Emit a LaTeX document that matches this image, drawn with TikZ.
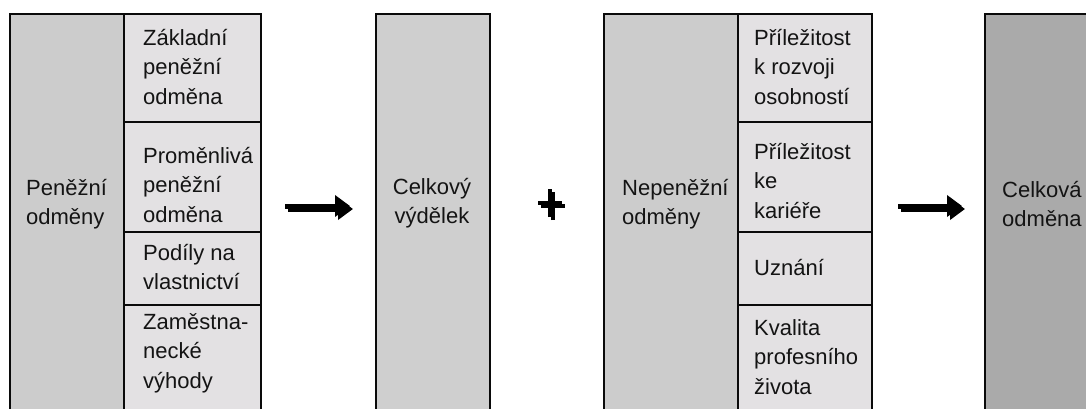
\documentclass[tikz,border=0pt]{standalone}
\usepackage{fontspec}
\setmainfont{Liberation Sans}
\usetikzlibrary{arrows.meta}
\definecolor{maingray}{HTML}{CCCCCC}
\definecolor{subgray}{HTML}{E3E1E3}
\definecolor{sumgray}{HTML}{CFCFCF}
\definecolor{totgray}{HTML}{AAAAAA}
\definecolor{edge}{HTML}{0A0A0A}
\definecolor{shade}{HTML}{A0A0A0}
\tikzset{
  box/.style={draw=edge, line width=2.3pt, rectangle, inner sep=0pt, anchor=north west},
  lbl/.style={font=\fontsize{22}{29.5}\selectfont, text=black!92, align=left, inner sep=0pt, anchor=west},
  clbl/.style={font=\fontsize{22}{29.5}\selectfont, text=black!92, align=center, inner sep=0pt},
  bigarrow/.style={line width=5pt, -{Triangle[length=15pt,width=21pt]}},
  plusbar/.style={line width=4.5pt},
  sh/.style={shift={(3,3)}}
}
\begin{document}
\begin{tikzpicture}[x=1pt,y=-1pt]
\useasboundingbox (0,0) rectangle (1086,408);
\clip (0,0) rectangle (1086,408);
\fill[white] (0,0) rectangle (1086,408);

% monetary rewards
\node[box, fill=maingray, minimum width=114pt, minimum height=420pt] (pm) at (9,13) {};
\node[box, fill=subgray, minimum width=137pt, minimum height=108pt] (pm1) at (123,13) {};
\node[box, fill=subgray, minimum width=137pt, minimum height=110pt] (pm2) at (123,121) {};
\node[box, fill=subgray, minimum width=137pt, minimum height=73pt] (pm3) at (123,231) {};
\node[box, fill=subgray, minimum width=137pt, minimum height=120pt] (pm4) at (123,304) {};
\node[lbl] (tpm) at (26,204) {Peněžní\\odměny};
\node[lbl] (tpm1) at (143,67) {Základní\\peněžní\\odměna};
\node[lbl] (tpm2) at (143,185) {Proměnlivá\\peněžní\\odměna};
\node[lbl] (tpm3) at (143,267) {Podíly na\\vlastnictví};
\node[lbl] (tpm4) at (143,353) {Zaměstna-\\necké\\výhody};

% total earnings
\node[box, fill=sumgray, minimum width=114pt, minimum height=420pt] (ce) at (375,13) {};
\node[clbl] (tce) at (432,203) {Celkový\\výdělek};

% non-monetary rewards
\node[box, fill=maingray, minimum width=134pt, minimum height=420pt] (nm) at (603,13) {};
\node[box, fill=subgray, minimum width=134pt, minimum height=108pt] (nm1) at (737,13) {};
\node[box, fill=subgray, minimum width=134pt, minimum height=110pt] (nm2) at (737,121) {};
\node[box, fill=subgray, minimum width=134pt, minimum height=73pt] (nm3) at (737,231) {};
\node[box, fill=subgray, minimum width=134pt, minimum height=120pt] (nm4) at (737,304) {};
\node[lbl] (tnm) at (622,204) {Nepeněžní\\odměny};
\node[lbl] (tnm1) at (754,67) {Příležitost\\k rozvoji\\osobností};
\node[lbl] (tnm2) at (754,181) {Příležitost\\ke\\kariéře};
\node[lbl] (tnm3) at (754,267) {Uznání};
\node[lbl] (tnm4) at (754,357) {Kvalita\\profesního\\života};

% total reward
\node[box, fill=totgray, minimum width=140pt, minimum height=420pt] (co) at (984,13) {};
\node[lbl] (tco) at (1002,204) {Celková\\odměna};

% arrows and plus sign, each with a drop shadow
\coordinate (a1s) at (285,206);
\coordinate (a1e) at (350,206);
\coordinate (a2s) at (898,206);
\coordinate (a2e) at (962,206);
\coordinate (pc) at (550,203);
\draw[bigarrow, shade] ([sh]a1s) -- ([sh]a1e);
\draw[bigarrow, shade] ([sh]a2s) -- ([sh]a2e);
\draw[plusbar, shade] ([sh,xshift=-12pt]pc) -- ([sh,xshift=12pt]pc);
\draw[plusbar, shade] ([sh,yshift=-14pt]pc) -- ([sh,yshift=14pt]pc);
\draw[bigarrow, black] (a1s) -- (a1e);
\draw[bigarrow, black] (a2s) -- (a2e);
\draw[plusbar, black] ([xshift=-12pt]pc) -- ([xshift=12pt]pc);
\draw[plusbar, black] ([yshift=-14pt]pc) -- ([yshift=14pt]pc);
\end{tikzpicture}
\end{document}
